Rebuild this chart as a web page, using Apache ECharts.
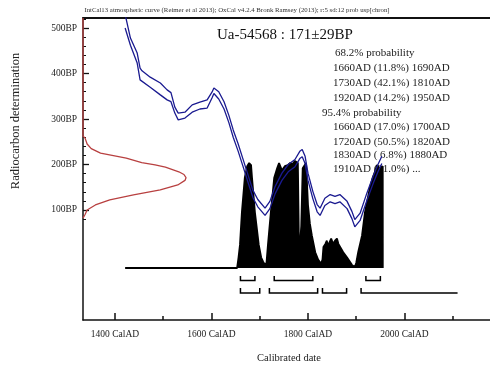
<!DOCTYPE html>
<html><head><meta charset="utf-8">
<script src="https://cdn.jsdelivr.net/npm/echarts@6/dist/echarts.min.js"></script>
<style>html,body{margin:0;padding:0;background:#fff}#c{width:490px;height:366px}</style>
</head><body><div id="c"></div>
<script>
// Calibration curve (IntCal) band, calendar years AD vs radiocarbon BP
const curveYears = [1421,1432,1446,1452,1456,1473,1494,1508,1516,1524,1531,1545,1560,1576,1591,1601,1605,1615,1626,1636,1645,1655,1665,1676,1686,1696,1711,1721,1732,1746,1759,1773,1783,1788,1794,1800,1810,1819,1825,1835,1846,1856,1866,1881,1891,1897,1908,1922,1935,1945,1953];
const curveUpper = [530,478,445,412,406,392,379,364,358,326,313,315,331,337,342,359,368,360,338,308,276,246,213,176,143,123,104,119,152,181,200,211,229,233,218,181,141,112,104,126,134,130,134,119,97,79,93,137,174,200,218];
const curveLower = [500,462,423,386,382,370,353,342,338,313,298,302,315,322,324,346,356,344,322,292,260,230,197,160,127,107,88,103,136,165,184,195,213,217,202,165,125,96,88,110,118,114,118,103,81,63,77,121,158,184,202];

// Calibrated probability distribution (relative)
const probYears = [1421,1653,1656,1659,1663,1669,1674,1678,1682,1684,1690,1698,1703,1707,1711,1714,1717,1723,1730,1736,1740,1746,1752,1758,1763,1768,1773,1779,1781,1783,1786,1789,1796,1800,1804,1808,1815,1821,1827,1830,1832,1836,1839,1841,1845,1848,1852,1856,1860,1863,1866,1873,1881,1891,1897,1900,1904,1912,1918,1928,1934,1939,1943,1949,1954.9,1955];
const probValues = [0,0,0.1,0.22,0.53,0.86,0.97,1.0,0.98,0.86,0.53,0.22,0.1,0.06,0.03,0.05,0.22,0.53,0.86,0.95,1.0,0.93,0.97,0.98,1.0,0.99,1.02,1.0,0.3,0.19,0.4,0.95,1.0,0.6,0.42,0.31,0.15,0.08,0.04,0.08,0.2,0.23,0.26,0.21,0.25,0.28,0.23,0.26,0.28,0.23,0.22,0.15,0.1,0.03,0.01,0.05,0.15,0.31,0.53,0.76,0.86,0.92,0.98,0.95,0.97,0];

// Radiocarbon measurement likelihood (BP vs relative density)
const measBP = [82,90,100,111,122,133,144,155,165,171,178,184,194,199,204,214,225,235,245,258,262,522];
const measDensity = [0,0.02,0.04,0.12,0.26,0.49,0.75,0.92,0.99,1.0,0.98,0.93,0.8,0.7,0.57,0.42,0.17,0.08,0.04,0.02,0,0];

// Ranges
const range68 = [[1660,1690],[1730,1810],[1920,1950]];
const range95 = [[1660,1700],[1720,1820],[1830,1880],[1910,2110]];

// Tick labels
const xMajorTicks = [1400,1600,1800,2000];
const xMinorTicks = [1500,1700,1900,2100];
const yMajorTicks = [100,200,300,400,500];
const yMinorTicks = [80,120,140,160,180,220,240,260,280,320,340,360,380,420,440,460,480,520];

const headerText = 'IntCal13 atmospheric curve (Reimer et al 2013); OxCal v4.2.4 Bronk Ramsey (2013); r:5 sd:12 prob usp[chron]';
const sampleText = 'Ua-54568 : 171\u00b129BP';
const probLines = ['68.2% probability','1660AD (11.8%) 1690AD','1730AD (42.1%) 1810AD','1920AD (14.2%) 1950AD','95.4% probability','1660AD (17.0%) 1700AD','1720AD (50.5%) 1820AD','1830AD ( 6.8%) 1880AD','1910AD (21.0%) ...'];

const SERIF = 'Liberation Serif';
const chart = echarts.init(document.getElementById('c'), null, {renderer:'canvas'});

const upperPts = curveYears.map((y,i)=>[y,curveUpper[i]]);
const lowerPts = curveYears.map((y,i)=>[y,curveLower[i]]);
const bandDiff = curveYears.map((y,i)=>[y,curveUpper[i]-curveLower[i]]);
const probPts = probYears.map((y,i)=>[y,probValues[i]]);
const measPts = measBP.map((b,i)=>[measDensity[i],b]);
const rangeData = range68.map(r=>[r[0],r[1],0,0]).concat(range95.map((r,i)=>[r[0],r[1],1,i===range95.length-1?1:0]));

const probX = [335,333,333,333,322,333,333,333,333];
const probY = [53,68,83,98,113,127.5,142,155.5,169];

const XMIN = 1333.7, XMAX = 2177.2;
const graphics = [
  {type:'text', x:237, y:10, style:{text:headerText, font:'6.8px '+SERIF, fill:'#333', align:'center', verticalAlign:'middle'}},
  {type:'text', x:217, y:35, style:{text:sampleText, font:'15px '+SERIF, fill:'#111', verticalAlign:'middle'}},
  {type:'text', x:289, y:358, style:{text:'Calibrated date', font:'10.5px '+SERIF, fill:'#222', align:'center', verticalAlign:'middle'}},
  {type:'text', x:16, y:121, rotation:Math.PI/2, style:{text:'Radiocarbon determination', font:'12.5px '+SERIF, fill:'#222', align:'center', verticalAlign:'middle'}}
];
probLines.forEach((t,i)=>graphics.push({type:'text', x:probX[i], y:probY[i], style:{text:t, font:'11px '+SERIF, fill:'#222', verticalAlign:'middle'}}));

const option = {
  animation:false,
  backgroundColor:'#fff',
  grid:{left:83, top:18, right:0, bottom:46, containLabel:false},
  xAxis:[
    {type:'value', position:'bottom', min:XMIN, max:XMAX,
     axisLine:{onZero:false, lineStyle:{color:'#111', width:1.5}},
     axisTick:{inside:true, length:7, customValues:xMajorTicks, lineStyle:{color:'#111', width:1.5}},
     axisLabel:{customValues:xMajorTicks, formatter:v=>v+' CalAD', margin:9, fontFamily:SERIF, fontSize:9.5, color:'#222'},
     splitLine:{show:false}},
    {type:'value', position:'bottom', min:XMIN, max:XMAX,
     axisLine:{show:false, onZero:false},
     axisTick:{inside:true, length:4, customValues:xMinorTicks, lineStyle:{color:'#111', width:1.5}},
     axisLabel:{show:false}, splitLine:{show:false}},
    {type:'value', position:'top', min:XMIN, max:XMAX,
     axisLine:{onZero:false, lineStyle:{color:'#111', width:2}}, axisTick:{show:false}, axisLabel:{show:false}, splitLine:{show:false}},
    {type:'value', min:0, max:3.951, show:false, axisLine:{onZero:false}}
  ],
  yAxis:[
    {type:'value', position:'left', min:-141.8, max:522,
     axisLine:{show:true, onZero:false, lineStyle:{color:'#111', width:1.5}},
     axisTick:{show:true, inside:true, length:6, customValues:yMajorTicks, lineStyle:{color:'#111', width:1.3}},
     axisLabel:{customValues:yMajorTicks, formatter:v=>v+'BP', margin:6, fontFamily:SERIF, fontSize:9.5, color:'#222'},
     splitLine:{show:false}},
    {type:'value', position:'left', min:-141.8, max:522,
     axisLine:{show:false, onZero:false},
     axisTick:{show:true, inside:true, length:3, customValues:yMinorTicks, lineStyle:{color:'#111', width:1}},
     axisLabel:{show:false}, splitLine:{show:false}},
    {type:'value', min:-0.4952, max:2.381, show:false, axisLine:{onZero:false}}
  ],
  series:[
    {type:'line', name:'prob', xAxisIndex:0, yAxisIndex:2, data:probPts, symbol:'none', z:2,
     lineStyle:{color:'#000', width:1.8}, areaStyle:{color:'#000', opacity:1, origin:0}},
    {type:'custom', name:'ranges', xAxisIndex:0, yAxisIndex:2, data:rangeData, z:3,
     renderItem:function(params, api){
       const s=api.value(0), e=api.value(1), row=api.value(2), open=api.value(3);
       const yl = row===0 ? -0.119 : -0.238, yt = row===0 ? -0.076 : -0.19;
       const p1=api.coord([s,yt]), p2=api.coord([s,yl]), p3=api.coord([e,yl]), p4=api.coord([e,yt]);
       return {type:'polyline', shape:{points: open ? [p1,p2,p3] : [p1,p2,p3,p4]}, style:{stroke:'#000', lineWidth:1.5, fill:null}};
     }},
    {type:'line', name:'bandBase', xAxisIndex:0, yAxisIndex:0, data:lowerPts, stack:'band', symbol:'none', z:4,
     lineStyle:{width:0, opacity:0}},
    {type:'line', name:'bandFill', xAxisIndex:0, yAxisIndex:0, data:bandDiff, stack:'band', symbol:'none', z:4,
     lineStyle:{width:0, opacity:0}, areaStyle:{color:'#fff', opacity:1}},
    {type:'line', name:'upper', xAxisIndex:0, yAxisIndex:0, data:upperPts, symbol:'none', z:5,
     lineStyle:{color:'#1a1a90', width:1.3}},
    {type:'line', name:'lower', xAxisIndex:0, yAxisIndex:0, data:lowerPts, symbol:'none', z:5,
     lineStyle:{color:'#1a1a90', width:1.3}},
    {type:'line', name:'meas', xAxisIndex:3, yAxisIndex:0, data:measPts, symbol:'none', z:6,
     lineStyle:{color:'#b84040', width:1.3}}
  ],
  graphic: graphics
};
chart.setOption(option);
</script></body></html>
